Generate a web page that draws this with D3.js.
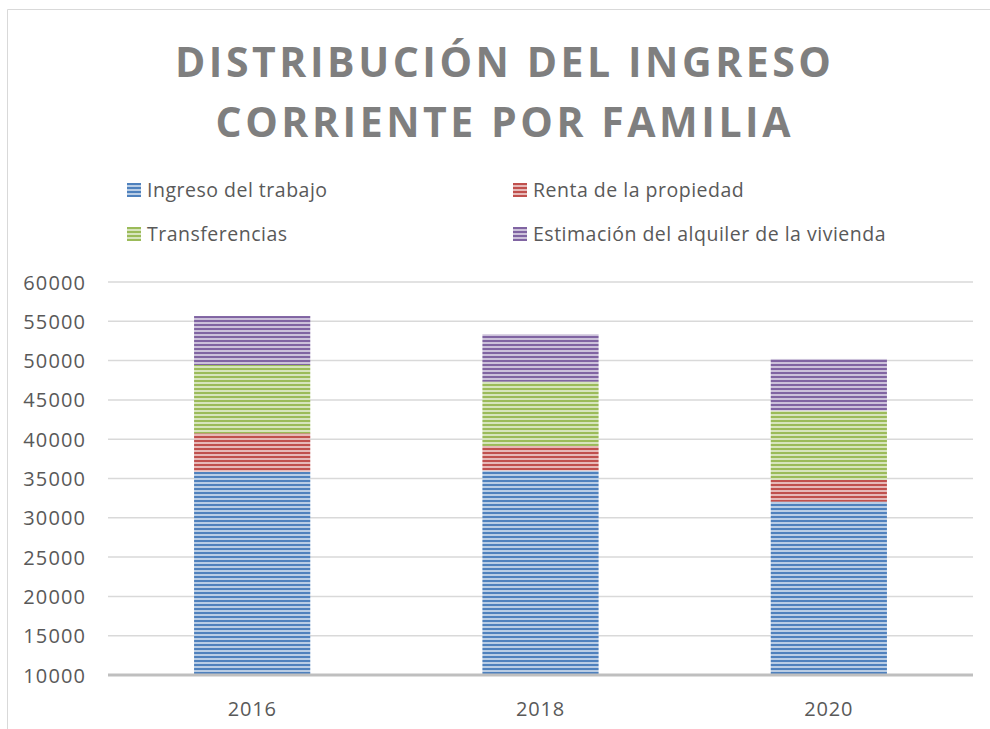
<!DOCTYPE html>
<html><head><meta charset="utf-8">
<script src="https://cdn.jsdelivr.net/npm/d3@7"></script>
<style>html,body{margin:0;padding:0;background:#fff;}svg{display:block;}</style>
</head><body>
<svg id="c" width="990" height="729"></svg>
<script>
const categories = ["2016", "2018", "2020"];
const seriesNames = ["Ingreso del trabajo", "Renta de la propiedad", "Transferencias", "Estimación del alquiler de la vivienda"];
const ingresoTrabajo = [35870, 36000, 32050];
const rentaPropiedad = [4880, 3140, 2760];
const transferencias = [8690, 8180, 8820];
const alquilerVivienda = [6230, 6030, 6580];
const yTicks = [10000, 15000, 20000, 25000, 30000, 35000, 40000, 45000, 50000, 55000, 60000];
const titleLines = ["DISTRIBUCIÓN DEL INGRESO", "CORRIENTE POR FAMILIA"];

const colors = ["#4f81bd", "#c0504d", "#9bbb59", "#8064a2"];
const keys = ["trabajo", "renta", "transf", "alquiler"];
const data = categories.map((c, i) => ({cat: c, trabajo: ingresoTrabajo[i], renta: rentaPropiedad[i], transf: transferencias[i], alquiler: alquilerVivienda[i]}));

const svg = d3.select("#c");
const font = "'Open Sans', 'DejaVu Sans', sans-serif";

// patterns
const defs = svg.append("defs");
colors.forEach((col, i) => {
  const light = d3.interpolateRgb(col, "#ffffff")(0.6);
  const p = defs.append("pattern").attr("id", "pat" + i).attr("patternUnits", "userSpaceOnUse")
    .attr("width", 8).attr("height", 4);
  p.append("rect").attr("width", 8).attr("height", 4).attr("fill", light);
  p.append("rect").attr("width", 8).attr("height", 2).attr("fill", col);
});

// chart border
svg.append("path").attr("d", "M7.5,729 L7.5,9.5 L990,9.5").attr("fill", "none").attr("stroke", "#d9d9d9").attr("stroke-width", 1);

// title
const title = svg.append("g");
titleLines.forEach((t, i) => {
  const target = i === 0 ? 656 : 575;
  const tx = title.append("text").attr("x", 503).attr("y", 77 + i * 60)
    .attr("text-anchor", "middle").attr("fill", "#7f7f7f")
    .style("font-family", font).style("font-weight", "700").style("font-size", "41px")
    .text(t);
  const w0 = tx.node().getComputedTextLength();
  const n = t.length;
  const ls = (target - w0) / (n - 1);
  tx.style("letter-spacing", ls + "px").attr("x", 503 + ls / 2);
});

// scales
const x = d3.scaleBand().domain(categories).range([108, 973]).paddingInner(0.597).paddingOuter(0.2985);
const y = d3.scaleLinear().domain([10000, 60000]).range([675, 282]).clamp(true);

// gridlines
svg.append("g").selectAll("line").data(yTicks.filter(d => d !== 10000)).join("line")
  .attr("x1", 108).attr("x2", 973).attr("y1", d => y(d)).attr("y2", d => y(d))
  .attr("stroke", "#d9d9d9").attr("stroke-width", 1.5);

// y axis labels
const yAxis = d3.axisLeft(y).tickValues(yTicks).tickSize(0).tickPadding(0).tickFormat(d3.format("d"));
const ya = svg.append("g").attr("transform", "translate(86,0)").call(yAxis);
ya.select(".domain").remove();
ya.selectAll("text").attr("fill", "#595959").style("font-family", font).style("font-size", "20px")
  .style("letter-spacing", "1.1px").attr("dy", "0.35em");

// stacked bars
const stack = d3.stack().keys(keys)(data);
svg.append("g").selectAll("g").data(stack).join("g")
  .attr("fill", (d, i) => "url(#pat" + i + ")")
  .selectAll("rect").data(d => d).join("rect")
  .attr("x", d => x(d.data.cat)).attr("width", x.bandwidth())
  .attr("y", d => y(d[1])).attr("height", d => y(d[0]) - y(d[1]));

// x axis
const xAxis = d3.axisBottom(x).tickSize(0).tickPadding(0);
const xa = svg.append("g").attr("transform", "translate(0,675)").call(xAxis);
xa.select(".domain").remove();
xa.selectAll("text").attr("fill", "#595959").style("font-family", font).style("font-size", "20px")
  .style("letter-spacing", "0.8px").attr("dy", "0").attr("y", 41);
svg.append("line").attr("x1", 108).attr("x2", 973).attr("y1", y(10000)).attr("y2", y(10000))
  .attr("stroke", "#bfbfbf").attr("stroke-width", 3);

// legend
const legPos = [[127, 183], [513, 183], [127, 227], [513, 227]];
const leg = svg.append("g").selectAll("g").data(seriesNames).join("g")
  .attr("transform", (d, i) => `translate(${legPos[i][0]},${legPos[i][1]})`);
leg.append("rect").attr("width", 14).attr("height", 14).attr("fill", (d, i) => "url(#pat" + i + ")");
leg.append("text").attr("x", 20).attr("y", 14).attr("fill", "#595959")
  .style("font-family", font).style("font-size", "19.5px").style("letter-spacing", "0.5px").text(d => d);
</script>
</body></html>
